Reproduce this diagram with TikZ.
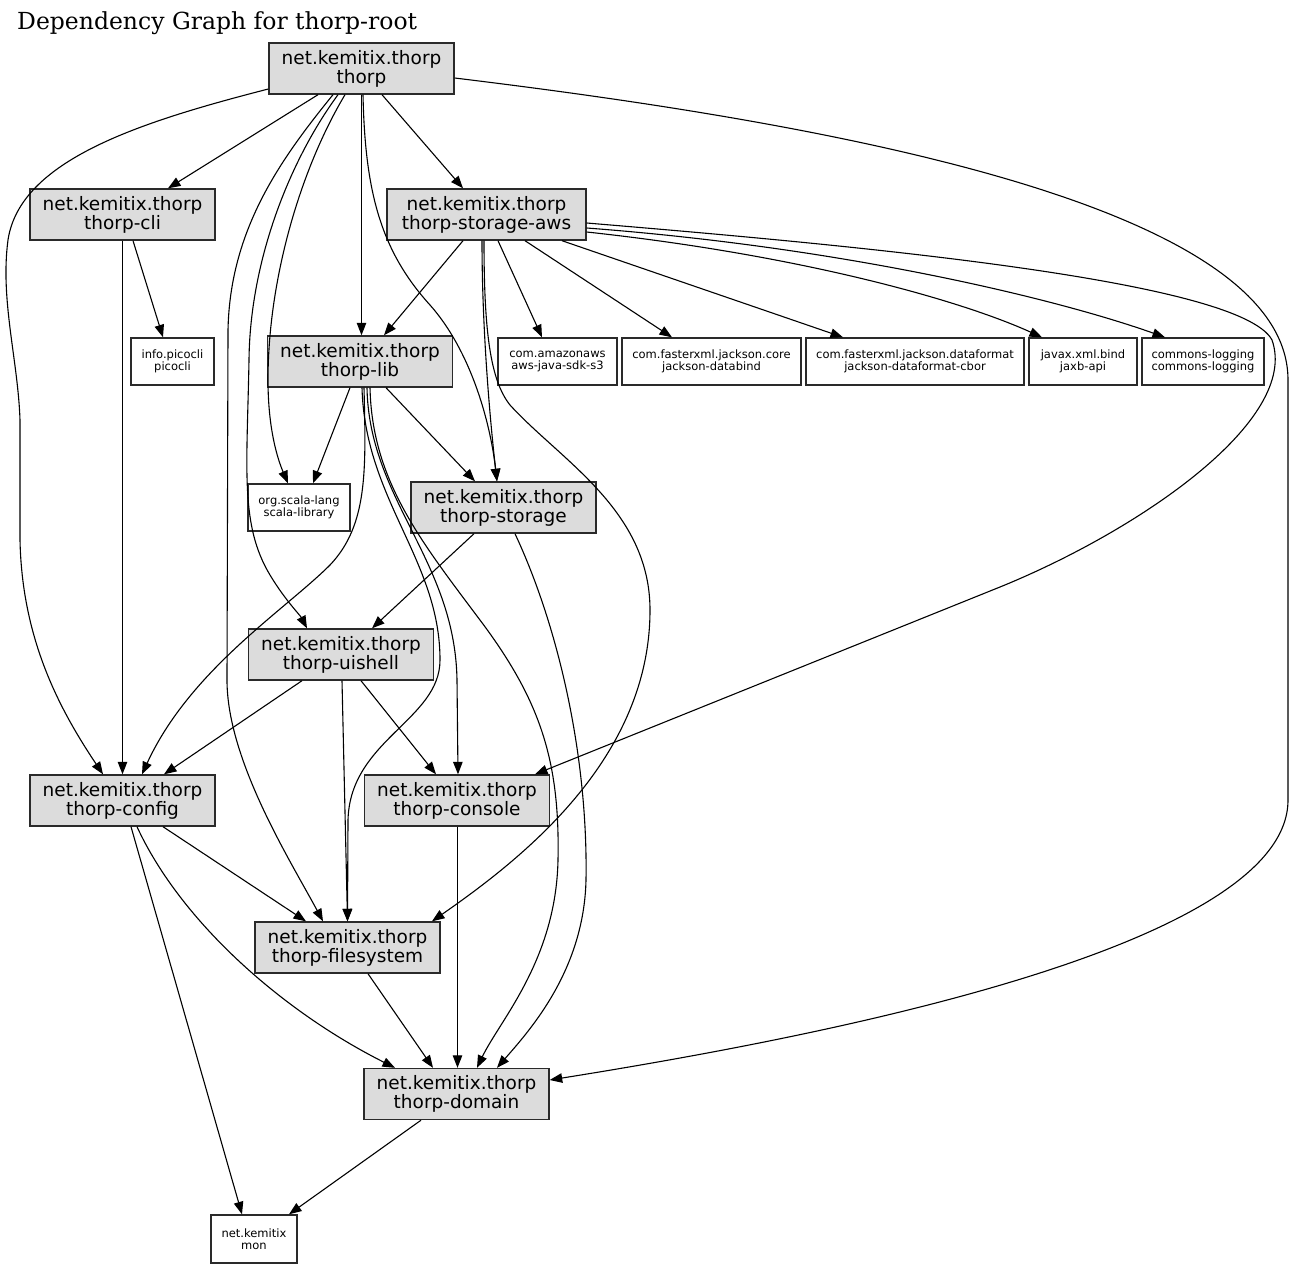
\documentclass[tikz,border=0pt]{standalone}
\usepackage{fontspec}
\setmainfont{DejaVu Serif}
\setsansfont{DejaVu Sans}
\usetikzlibrary{arrows.meta}
\definecolor{ink}{HTML}{000000}
\definecolor{boxline}{HTML}{2A2A2A}
\definecolor{pkgfill}{HTML}{DCDCDC}

\begin{document}
\begin{tikzpicture}[x=1pt, y=-1pt, line join=miter,
  pkg/.style={draw=boxline, fill=pkgfill, line width=1.4pt, inner sep=0pt,
              minimum width=185pt, minimum height=51pt, align=center,
              font=\sffamily\fontsize{18.5}{19}\selectfont},
  ext/.style={draw=boxline, fill=white, line width=1.4pt, inner sep=0pt,
              minimum height=47pt, align=center,
              font=\sffamily\fontsize{11.5}{11.8}\selectfont},
  dep/.style={-{Triangle[length=12.5pt,width=9.5pt]}, ink, line width=1.1pt},
  heading/.style={font=\fontsize{23.5}{28}\selectfont, anchor=base west, inner sep=0pt}]

\useasboundingbox (0,0) rectangle (1293,1269);

\node[heading] (title) at (17,29) {Dependency Graph for thorp-root};

% ---- modules ----------------------------------------------------------
\node[pkg] (thorp)   at (361.5,68.5)  {net.kemitix.thorp\\thorp};
\node[pkg] (cli)     at (122.5,214.5) {net.kemitix.thorp\\thorp-cli};
\node[pkg, minimum width=199pt] (aws) at (486.5,214.5) {net.kemitix.thorp\\thorp-storage-aws};
\node[pkg] (lib)     at (360,361.5)   {net.kemitix.thorp\\thorp-lib};
\node[pkg] (storage) at (503.5,507.5) {net.kemitix.thorp\\thorp-storage};
\node[pkg] (uishell) at (341,654.5)   {net.kemitix.thorp\\thorp-uishell};
\node[pkg] (config)  at (122.5,800.5) {net.kemitix.thorp\\thorp-config};
\node[pkg] (console) at (457,800.5)   {net.kemitix.thorp\\thorp-console};
\node[pkg] (fsys)    at (347.5,947.5) {net.kemitix.thorp\\thorp-filesystem};
\node[pkg] (domain)  at (456.5,1094)  {net.kemitix.thorp\\thorp-domain};

% ---- external libraries -----------------------------------------------
\node[ext, minimum width=83pt]  (picocli) at (172.5,361.5) {info.picocli\\picocli};
\node[ext, minimum width=119pt] (amazon)  at (557.5,361.5) {com.amazonaws\\aws-java-sdk-s3};
\node[ext, minimum width=179pt] (jcore)   at (711.5,361.5) {com.fasterxml.jackson.core\\jackson-databind};
\node[ext, minimum width=218pt] (jcbor)   at (915,361.5)   {com.fasterxml.jackson.dataformat\\jackson-dataformat-cbor};
\node[ext, minimum width=108pt] (jaxb)    at (1083,361.5)  {javax.xml.bind\\jaxb-api};
\node[ext, minimum width=122pt] (logging) at (1203,361.5)  {commons-logging\\commons-logging};
\node[ext, minimum width=102pt] (scala)   at (299,507.5)   {org.scala-lang\\scala-library};
\node[ext, minimum width=86pt, minimum height=48pt] (mon) at (254,1239) {net.kemitix\\mon};

% ---- thorp ------------------------------------------------------------
\draw[dep] (thorp.south -| 318,0) -- (cli.north -| 168,0);
\draw[dep] (thorp.west |- 0,89) .. controls (140,122) and (20,160) .. (8,240)
  .. controls (0,300) and (18,360) .. (20,420) -- (20,540)
  .. controls (22,640) and (60,710) .. (config.north -| 103,0);
\draw[dep] (thorp.south -| 338,0) .. controls (290,160) and (250,260) .. (249,360)
  .. controls (247,470) and (240,525) .. (270,575)
  .. controls (285,600) and (300,615) .. (uishell.north -| 307,0);
\draw[dep] (thorp.south -| 333,0) .. controls (280,160) and (230,230) .. (228,330)
  -- (227,680) .. controls (227,760) and (290,860) .. (fsys.north -| 323,0);
\draw[dep] (thorp.south -| 345,0) .. controls (300,170) and (268,280) .. (268,380)
  .. controls (268,430) and (278,460) .. (scala.north -| 288,0);
\draw[dep] (thorp.south) -- (thorp.south |- lib.north);
\draw[dep] (thorp.south -| 363,0) .. controls (365,190) and (380,250) .. (430,305)
  .. controls (470,350) and (490,420) .. (storage.north -| 497,0);
\draw[dep] (thorp.south -| 382,0) -- (aws.north -| 463,0);
\draw[dep] (thorp.east |- 0,78) .. controls (800,120) and (1288,200) .. (1288,380)
  -- (1288,800) .. controls (1288,950) and (800,1040) .. (domain.east |- 0,1080);

% ---- thorp-storage-aws ------------------------------------------------
\draw[dep] (aws.south -| 463,0) -- (lib.north -| 384,0);
\draw[dep] (aws.south -| 482,0) .. controls (482,330) and (490,420) .. (storage.north -| 497,0);
\draw[dep] (aws.south -| 484,0) .. controls (484,330) and (490,380) .. (510,405)
  .. controls (560,460) and (650,510) .. (650,610)
  .. controls (650,760) and (520,860) .. (fsys.north -| 432,0);
\draw[dep] (aws.south -| 498,0) -- (amazon.north -| 542,0);
\draw[dep] (aws.south -| 525,0) -- (jcore.north -| 672,0);
\draw[dep] (aws.south -| 562,0) -- (jcbor.north -| 843,0);
\draw[dep] (aws.east |- 0,232) .. controls (800,255) and (960,300) .. (jaxb.north -| 1042,0);
\draw[dep] (aws.east |- 0,228) .. controls (850,248) and (1060,300) .. (logging.north -| 1165,0);
\draw[dep] (aws.east |- 0,223) .. controls (850,245) and (1240,280) .. (1272,340)
  .. controls (1300,420) and (1140,530) .. (1000,587) -- (console.north -| 535,0);

% ---- thorp-cli --------------------------------------------------------
\draw[dep] (cli.south -| 133,0) -- (picocli.north -| 163,0);
\draw[dep] (cli.south) -- (config.north);

% ---- thorp-lib --------------------------------------------------------
\draw[dep] (lib.south -| 350,0) -- (scala.north -| 313,0);
\draw[dep] (lib.south -| 386,0) -- (storage.north -| 475,0);
\draw[dep] (lib.south -| 364,0) .. controls (366,470) and (368,525) .. (330,565)
  .. controls (285,610) and (190,670) .. (config.north -| 142,0);
\draw[dep] (lib.south -| 362,0) .. controls (365,500) and (440,560) .. (440,660)
  .. controls (440,720) and (350,740) .. (348,820) -- (fsys.north -| 347.5,0);
\draw[dep] (lib.south -| 367,0) .. controls (369,500) and (455,560) .. (457,680)
  -- (console.north -| 458,0);
\draw[dep] (lib.south -| 370,0) .. controls (372,480) and (420,540) .. (480,620)
  .. controls (540,700) and (560,760) .. (558,860)
  .. controls (556,960) and (500,1020) .. (domain.north -| 477,0);

% ---- thorp-storage ----------------------------------------------------
\draw[dep] (storage.south -| 474,0) -- (uishell.north -| 372,0);
\draw[dep] (storage.south -| 515,0) .. controls (560,630) and (588,760) .. (586,880)
  .. controls (584,970) and (530,1030) .. (domain.north -| 497,0);

% ---- thorp-uishell ----------------------------------------------------
\draw[dep] (uishell.south -| 302,0) -- (config.north -| 164,0);
\draw[dep] (uishell.south -| 342,0) -- (fsys.north -| 347.5,0);
\draw[dep] (uishell.south -| 361,0) -- (console.north -| 436,0);

% ---- thorp-config -----------------------------------------------------
\draw[dep] (config.south -| 163,0) -- (fsys.north -| 306,0);
\draw[dep] (config.south -| 137,0) .. controls (180,920) and (280,1010) .. (domain.north -| 395,0);
\draw[dep] (config.south -| 131,0) -- (mon.north -| 242,0);

% ---- the rest ---------------------------------------------------------
\draw[dep] (console.south -| 457.5,0) -- (domain.north -| 457.5,0);
\draw[dep] (fsys.south -| 368,0) -- (domain.north -| 433,0);
\draw[dep] (domain.south -| 421,0) -- (mon.north -| 289,0);

\end{tikzpicture}
\end{document}
